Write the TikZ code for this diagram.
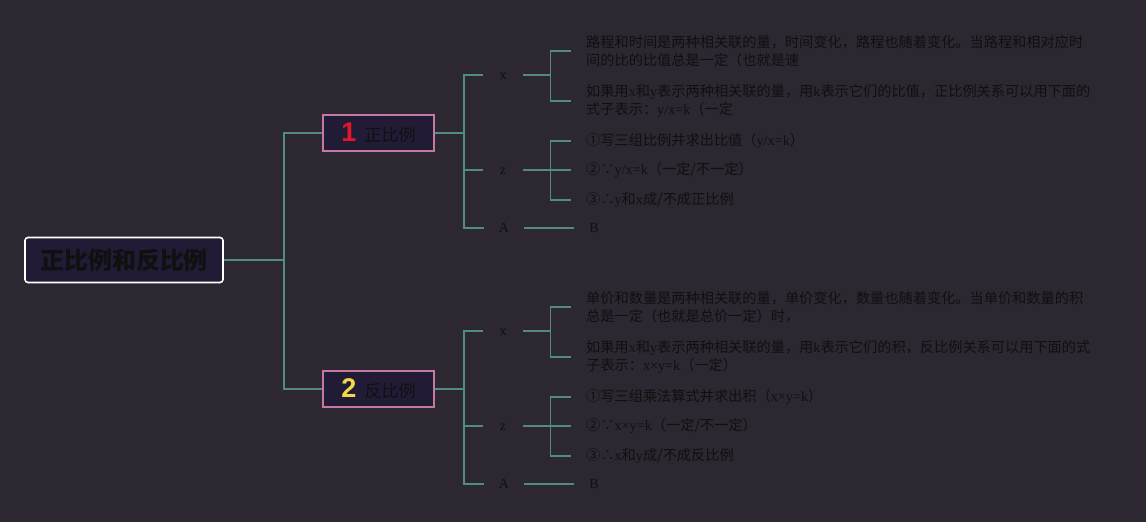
\documentclass[tikz,border=0pt]{standalone}
\usepackage{fontspec}
\setmainfont{Liberation Serif}
\newfontfamily\cjk{Noto Sans CJK SC}
\newfontfamily\numfont{Liberation Sans}
\usetikzlibrary{positioning}
\definecolor{bgc}{HTML}{2D2731}
\definecolor{linkc}{HTML}{4F8C85}
\definecolor{boxc}{HTML}{221B36}
\definecolor{pinkc}{HTML}{C27AA0}
\definecolor{inkc}{HTML}{101010}
\definecolor{onec}{HTML}{E3172C}
\definecolor{twoc}{HTML}{F3D64A}
\newcommand\en[1]{{\rmfamily #1}}

\begin{document}
\begin{tikzpicture}[x=1pt, y=-1pt,
    link/.style = {draw=linkc, line width=1.4pt},
    rootbox/.style = {draw=white, line width=1.6pt, rounded corners=3pt, fill=boxc,
        minimum width=198pt, minimum height=45pt, text=inkc,
        font=\cjk\bfseries\fontsize{24}{28}\selectfont},
    topic/.style = {draw=pinkc, line width=1.3pt, fill=boxc, minimum width=111pt,
        minimum height=36pt, text=inkc, font=\cjk\fontsize{17}{20}\selectfont},
    tag/.style = {minimum width=40pt, inner sep=0pt, text height=9pt, text depth=0pt,
        text=inkc, font=\fontsize{14}{16}\selectfont},
    leaf/.style = {anchor=west, align=left, inner xsep=15pt, inner ysep=0pt, text=inkc,
        font=\cjk\fontsize{14.2}{18}\selectfont}]
  \useasboundingbox[fill=bgc] (0,0) rectangle (1146,522);
  \node (root) at (124,260) [rootbox] {正比例和反比例};
  \node (zheng) at (378.5,133) [topic] {{\numfont\bfseries\fontsize{27}{27}\selectfont\color{onec}1}\hspace{8pt}正比例};
  \node (fan) at (378.5,389) [topic] {{\numfont\bfseries\fontsize{27}{27}\selectfont\color{twoc}2}\hspace{8pt}反比例};
  \coordinate (f0) at (284,260);
  \draw [link] (root) -- (f0) |- (zheng);
  \draw [link] (f0) |- (fan);

  % 正比例
  \coordinate (fz) at (464,133);
  \node (zx) at (503,75) [tag] {x};
  \node (zz) at (503,170) [tag] {z};
  \node (za) at (504,228) [tag] {A};
  \node (zb) at (594,228) [tag] {B};
  \coordinate [right=27pt of zx] (gzx);
  \coordinate [right=27pt of zz] (gzz);
  \node (zx1) at (571,51) [leaf] {路程和时间是两种相关联的量，时间变化，路程也随着变化。当路程和相对应时\\间的比的比值总是一定（也就是速};
  \node (zx2) at (571,101) [leaf] {如果用\en{x}和\en{y}表示两种相关联的量，用\en{k}表示它们的比值，正比例关系可以用下面的\\式子表示：\en{y/x=k}（一定};
  \node (zz1) at (571,141) [leaf] {①写三组比例并求出比值（\en{y/x=k}）};
  \node (zz2) at (571,170) [leaf] {②∵\en{y/x=k}（一定/不一定）};
  \node (zz3) at (571,200) [leaf] {③∴\en{y}和\en{x}成/不成正比例};
  \draw [link] (zheng) -- (fz);
  \draw [link] (fz) |- (zx);
  \draw [link] (fz) |- (zz);
  \draw [link] (fz) |- (za);
  \draw [link] (za) -- (zb);
  \draw [link] (zx) -- (gzx);
  \draw [link] (gzx) |- (zx1);
  \draw [link] (gzx) |- (zx2);
  \draw [link] (zz) -- (gzz);
  \draw [link] (gzz) |- (zz1);
  \draw [link] (gzz) |- (zz2);
  \draw [link] (gzz) |- (zz3);

  % 反比例
  \coordinate (ff) at (464,389);
  \node (fx) at (503,331) [tag] {x};
  \node (fz2) at (503,426) [tag] {z};
  \node (fa) at (504,484) [tag] {A};
  \node (fb) at (594,484) [tag] {B};
  \coordinate [right=27pt of fx] (gfx);
  \coordinate [right=27pt of fz2] (gfz);
  \node (fx1) at (571,307) [leaf] {单价和数量是两种相关联的量，单价变化，数量也随着变化。当单价和数量的积\\总是一定（也就是总价一定）时，};
  \node (fx2) at (571,357) [leaf] {如果用\en{x}和\en{y}表示两种相关联的量，用\en{k}表示它们的积，反比例关系可以用下面的式\\子表示：\en{x×y=k}（一定）};
  \node (fz1) at (571,397) [leaf] {①写三组乘法算式并求出积（\en{x×y=k}）};
  \node (fz3) at (571,426) [leaf] {②∵\en{x×y=k}（一定/不一定）};
  \node (fz4) at (571,456) [leaf] {③∴\en{x}和\en{y}成/不成反比例};
  \draw [link] (fan) -- (ff);
  \draw [link] (ff) |- (fx);
  \draw [link] (ff) |- (fz2);
  \draw [link] (ff) |- (fa);
  \draw [link] (fa) -- (fb);
  \draw [link] (fx) -- (gfx);
  \draw [link] (gfx) |- (fx1);
  \draw [link] (gfx) |- (fx2);
  \draw [link] (fz2) -- (gfz);
  \draw [link] (gfz) |- (fz1);
  \draw [link] (gfz) |- (fz3);
  \draw [link] (gfz) |- (fz4);
\end{tikzpicture}
\end{document}
